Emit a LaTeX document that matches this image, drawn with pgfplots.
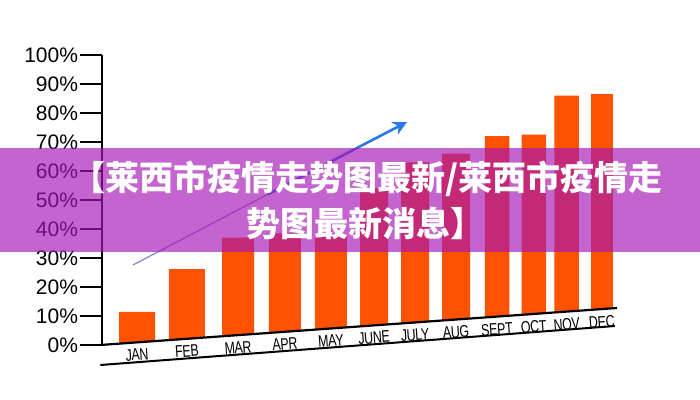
\documentclass[border=0pt]{standalone}
\usepackage{pgfplots}
\pgfplotsset{compat=1.18}
\usepackage{pgfplotstable}
\usepackage{fontspec}
\setmainfont{Liberation Sans}
\newfontfamily\narrow[FakeStretch=0.74,LetterSpace=-2]{Liberation Sans}
\newfontfamily\cjk{Noto Sans CJK SC}
\usetikzlibrary{arrows.meta}

\definecolor{barorange}{RGB}{255,82,0}
\definecolor{bannerpurple}{RGB}{166,20,182}
\definecolor{arrowblue}{RGB}{40,120,235}
\definecolor{arrowpale}{RGB}{110,90,220}

% month, bar position, label height (under the slanted base line)
\pgfplotstableread{
pos   ly    name
0     -3.4  JAN
1.18  -2.2  FEB
2.39  -0.9  MAR
3.50   0.3  APR
4.59   1.4  MAY
5.61   2.5  JUNE
6.58   3.5  JULY
7.55   4.5  AUG
8.52   5.4  SEPT
9.39   6.3  OCT
10.17  7.1  NOV
11.00  7.9  DEC
}\months

\begin{document}
\begin{tikzpicture}
\useasboundingbox (0,0) rectangle (350pt,200pt);
\begin{axis}[
    at={(51pt,27.5pt)}, anchor=south west,
    scale only axis, width=257.5pt, height=145pt,
    xmin=-0.83, xmax=11.36, ymin=0, ymax=100,
    clip=false,
    hide x axis,
    axis y line*=left,
    y axis line style={line width=1pt},
    ytick={0,10,...,100},
    yticklabels={0\%,10\%,20\%,30\%,40\%,50\%,60\%,70\%,80\%,90\%,100\%},
    yticklabel style={font=\fontsize{10.5}{12}\selectfont, inner sep=0.8pt},
    tick align=outside,
    major tick length=11pt,
    tick style={black, line width=0.8pt},
  ]
  % bars
  \addplot[ybar, bar shift=0pt, bar width=18pt, fill=barorange, draw=none]
    coordinates {(0,11.4) (1.18,26.2)};
  \addplot[ybar, bar shift=0pt, bar width=16pt, fill=barorange, draw=none]
    coordinates {(2.39,37) (3.50,38.5) (4.59,37.5)};
  \addplot[ybar, bar shift=0pt, bar width=14pt, fill=barorange, draw=none]
    coordinates {(5.61,54) (6.58,63) (7.55,66)};
  \addplot[ybar, bar shift=0pt, bar width=12.25pt, fill=barorange, draw=none]
    coordinates {(8.52,72) (9.39,72.5) (10.17,86)};
  \addplot[ybar, bar shift=0pt, bar width=11pt, fill=barorange, draw=none]
    coordinates {(11.00,86.5)};
  % slanted floor
  \addplot[fill=white, draw=none] coordinates {(-0.80,0) (11.40,12.76)} \closedcycle;
  \addplot[black, line width=1.1pt] coordinates {(-0.87,0) (11.36,12.76)};
  \addplot[black, line width=1pt] coordinates {(-0.87,-6.9) (11.31,6.55)};
  % month names
  \addplot[draw=none, mark=none, nodes near coords, point meta=explicit symbolic,
    nodes near coords style={anchor=center, text=black, rotate=4,
      font=\narrow\fontsize{8.4}{9}\selectfont}]
    table[x=pos, y=ly, meta=name] {\months};
  % trend arrow
  \addplot[arrowpale, line width=0.6pt, opacity=0.8] coordinates {(-0.095,27.6) (3.15,52.4)};
  \addplot[arrowblue, line width=1.3pt, -{Stealth[length=7pt,width=7pt]}]
    coordinates {(3.1,52.0) (6.39,76.9)};
\end{axis}
% title banner
\fill[bannerpurple, opacity=0.66] (0,74pt) rectangle (350pt,126pt);
\node[text=white, font=\cjk\bfseries\fontsize{17}{18}\selectfont, inner sep=0]
  at (183.5pt,110.5pt) {【莱西市疫情走势图最新/莱西市疫情走};
\node[text=white, font=\cjk\bfseries\fontsize{17}{18}\selectfont, inner sep=0]
  at (182.5pt,88.5pt) {势图最新消息】};
\end{tikzpicture}
\end{document}
